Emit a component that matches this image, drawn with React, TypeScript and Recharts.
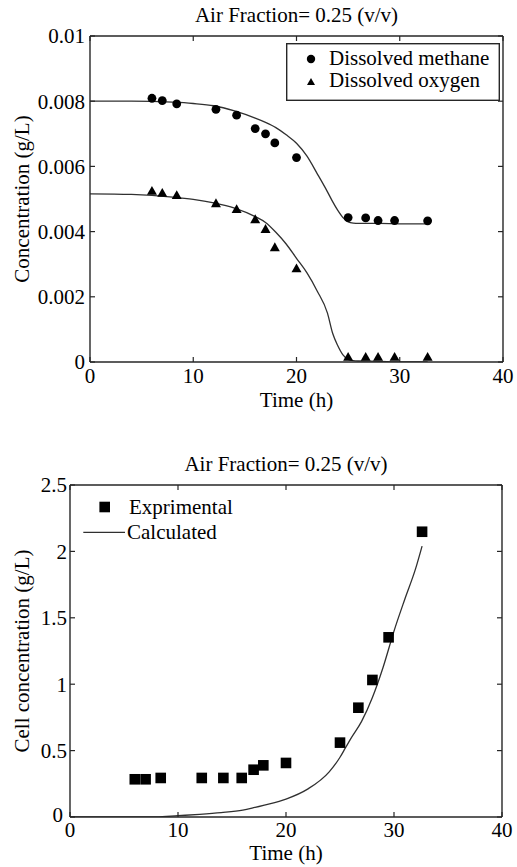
import React from 'react';
import { ComposedChart, Line, Scatter, XAxis, YAxis, Legend } from 'recharts';

const FONT = "'Liberation Serif', 'DejaVu Serif', serif";
const AXIS = '#262626';
const CURVE = '#303030';

const titleText = 'Air Fraction= 0.25 (v/v)';
const timeLabel = 'Time (h)';
const concLabel = 'Concentration (g/L)';
const cellLabel = 'Cell concentration (g/L)';
const methaneName = 'Dissolved methane';
const oxygenName = 'Dissolved oxygen';
const expName = 'Exprimental';
const calcName = 'Calculated';

const timeTicks = [0, 10, 20, 30, 40];
const concTicks = [0, 0.002, 0.004, 0.006, 0.008, 0.01];
const cellTicks = [0, 0.5, 1, 1.5, 2, 2.5];

// Measured (top chart)
const sampleTime = [6.0, 7.0, 8.4, 12.2, 14.2, 16.0, 17.0, 17.9, 20.0, 25.0, 26.7, 27.9, 29.5, 32.7];
const methaneMeasured = [0.00809, 0.00802, 0.00792, 0.00775, 0.00757, 0.00716, 0.0070, 0.00672, 0.00627, 0.00443, 0.00442, 0.00434, 0.00434, 0.00433];
const oxygenMeasured = [0.00524, 0.00518, 0.00511, 0.00486, 0.00468, 0.00437, 0.00407, 0.00351, 0.00286, 0.00015, 0.00015, 0.00015, 0.00015, 0.00015];

// Model (top chart)
const modelTime = [0, 4, 8, 10, 12, 14, 16, 17, 18, 19, 20, 21, 22, 23, 23.5, 24, 24.5, 25, 25.5, 26, 28, 30, 32.7];
const methaneModel = [0.0080, 0.0080, 0.00797, 0.00793, 0.00786, 0.0077, 0.00748, 0.00735, 0.00719, 0.00697, 0.00671, 0.00632, 0.00578, 0.00522, 0.00492, 0.00465, 0.00443, 0.0043, 0.00426, 0.00425, 0.00425, 0.00424, 0.00424];
const oxygenModel = [0.00516, 0.00514, 0.00506, 0.00499, 0.00488, 0.00472, 0.00446, 0.00428, 0.00398, 0.00362, 0.00318, 0.00274, 0.00218, 0.0015, 0.00088, 0.0005, 0.00022, 0.00008, 0.00004, 0.00003, 0.00002, 0.0, 0.0];

// Cell concentration (bottom chart)
const cellTime = [6.0, 7.0, 8.4, 12.2, 14.2, 15.9, 17.0, 17.9, 20.0, 25.0, 26.7, 28.0, 29.5, 32.6];
const cellMeasured = [0.284, 0.284, 0.294, 0.294, 0.294, 0.294, 0.356, 0.389, 0.407, 0.56, 0.823, 1.032, 1.353, 2.148];
const cellModelTime = [0, 8, 10, 12, 14, 16, 17, 18, 20, 22, 24, 25, 25.5, 26, 27, 28, 29, 30, 31, 32, 32.6];
const cellModel = [0, 0, 0.01, 0.02, 0.033, 0.052, 0.07, 0.09, 0.135, 0.21, 0.34, 0.45, 0.52, 0.59, 0.72, 0.9, 1.13, 1.4, 1.64, 1.87, 2.04];

const zip = (xs: number[], ys: number[]) => xs.map((t, i) => ({ t, v: ys[i] }));

const methanePoints = zip(sampleTime, methaneMeasured);
const oxygenPoints = zip(sampleTime, oxygenMeasured);
const methaneCurve = zip(modelTime, methaneModel);
const oxygenCurve = zip(modelTime, oxygenModel);
const cellPoints = zip(cellTime, cellMeasured);
const cellCurve = zip(cellModelTime, cellModel);

const tickStyle = { fontSize: 21, fill: '#000', fontFamily: FONT };
const axisLineStyle = { stroke: AXIS, strokeWidth: 1.4 };
const tickLineStyle = { stroke: AXIS, strokeWidth: 1.2 };
const blank = () => '';

const CellYTick = (props: any) => {
  const { x, y, payload } = props;
  const isZero = payload && payload.value === 0;
  return (
    <text x={x - (isZero ? 4 : 0)} y={y - (isZero ? 2 : 0)} dy="0.355em" textAnchor="end" fontSize={21} fontFamily={FONT} fill="#000">
      {String(payload.value)}
    </text>
  );
};

const DotShape = (p: any) => <circle cx={p.cx} cy={p.cy} r={4.4} fill="#000" />;
const TriShape = (p: any) => (
  <path d={`M${p.cx},${p.cy - 5.2} L${p.cx + 5},${p.cy + 3.6} L${p.cx - 5},${p.cy + 3.6} Z`} fill="#000" />
);
const SquareShape = (p: any) => (
  <rect x={p.cx - 5.3} y={p.cy - 5.3} width={10.6} height={10.6} fill="#000" />
);

const TopLegend = () => (
  <svg width={214} height={58} style={{ display: 'block', fontFamily: FONT }}>
    <rect x={0.7} y={0.7} width={212.6} height={56.6} fill="#fff" stroke={AXIS} strokeWidth={1.4} />
    <circle cx={25} cy={16} r={4.2} fill="#000" />
    <text x={43} y={22} fontSize={21} fontFamily={FONT} fill="#000">{methaneName}</text>
    <path d="M25,35 L29,42 L21,42 Z" fill="#000" />
    <text x={43} y={43.7} fontSize={21} fontFamily={FONT} fill="#000">{oxygenName}</text>
  </svg>
);

const BottomLegend = () => (
  <svg width={190} height={52} style={{ display: 'block', fontFamily: FONT }}>
    <rect x={19.4} y={6.7} width={10.6} height={10.6} fill="#000" />
    <text x={49} y={19} fontSize={21} fontFamily={FONT} fill="#000">{expName}</text>
    <line x1={3.3} y1={37.3} x2={45} y2={37.3} stroke={CURVE} strokeWidth={1.3} />
    <text x={47} y={44} fontSize={21} fontFamily={FONT} fill="#000">{calcName}</text>
  </svg>
);

export default function App() {
  return (
    <div style={{ position: 'absolute', left: 0, top: 0, width: 517, height: 867, background: '#fff', fontFamily: FONT }}>
      <div style={{ position: 'absolute', left: 0, top: 0, fontFamily: FONT }}>
        <ComposedChart width={517} height={420} margin={{ top: 35, right: 13, bottom: 28, left: 0 }} style={{ fontFamily: FONT }}>
          <XAxis
            xAxisId="b"
            dataKey="t"
            type="number"
            domain={[0, 40]}
            ticks={timeTicks}
            allowDataOverflow
            height={30}
            tickSize={-5}
            tickMargin={11}
            tick={tickStyle}
            axisLine={axisLineStyle}
            tickLine={tickLineStyle}
            label={{ value: timeLabel, position: 'bottom', offset: 0.5, fontSize: 21, fill: '#000', fontFamily: FONT }}
          />
          <XAxis
            xAxisId="t"
            dataKey="t"
            orientation="top"
            type="number"
            domain={[0, 40]}
            ticks={timeTicks}
            allowDataOverflow
            height={1}
            tickSize={-5}
            tickFormatter={blank}
            axisLine={axisLineStyle}
            tickLine={tickLineStyle}
            label={{ value: titleText, position: 'top', offset: 13, fontSize: 21, fill: '#000', fontFamily: FONT }}
          />
          <YAxis
            yAxisId="l"
            type="number"
            domain={[0, 0.01]}
            ticks={concTicks}
            allowDataOverflow
            width={90}
            tickSize={-5}
            tickMargin={10}
            tick={tickStyle}
            axisLine={axisLineStyle}
            tickLine={tickLineStyle}
            label={{ value: concLabel, angle: -90, position: 'insideLeft', offset: 22, fontSize: 21, fill: '#000', fontFamily: FONT, style: { textAnchor: 'middle' } }}
          />
          <YAxis
            yAxisId="r"
            orientation="right"
            type="number"
            domain={[0, 0.01]}
            ticks={concTicks}
            allowDataOverflow
            width={1}
            tickSize={-5}
            tickFormatter={blank}
            axisLine={axisLineStyle}
            tickLine={tickLineStyle}
          />
          <Line xAxisId="t" yAxisId="r" data={methaneCurve} dataKey="v" stroke="none" dot={false} activeDot={false} legendType="none" isAnimationActive={false} />
          <Line xAxisId="b" yAxisId="l" data={methaneCurve} dataKey="v" type="monotone" stroke={CURVE} strokeWidth={1.3} dot={false} isAnimationActive={false} name={methaneName} legendType="none" />
          <Line xAxisId="b" yAxisId="l" data={oxygenCurve} dataKey="v" type="monotone" stroke={CURVE} strokeWidth={1.3} dot={false} isAnimationActive={false} name={oxygenName} legendType="none" />
          <Scatter xAxisId="b" yAxisId="l" data={methanePoints} dataKey="v" shape={DotShape} isAnimationActive={false} name={methaneName} />
          <Scatter xAxisId="b" yAxisId="l" data={oxygenPoints} dataKey="v" shape={TriShape} isAnimationActive={false} name={oxygenName} />
          <Legend
            layout="vertical"
            align="center"
            verticalAlign="middle"
            wrapperStyle={{ top: 42.5, left: 286, width: 214, height: 58 }}
            content={() => <TopLegend />}
          />
        </ComposedChart>
      </div>
      <div style={{ position: 'absolute', left: 0, top: 420, fontFamily: FONT }}>
        <ComposedChart width={517} height={447} margin={{ top: 64, right: 14, bottom: 20, left: 0 }} style={{ fontFamily: FONT }}>
          <XAxis
            xAxisId="b"
            dataKey="t"
            type="number"
            domain={[0, 40]}
            ticks={timeTicks}
            allowDataOverflow
            height={30}
            tickSize={-5}
            tickMargin={10}
            tick={tickStyle}
            axisLine={axisLineStyle}
            tickLine={tickLineStyle}
            label={{ value: timeLabel, position: 'bottom', offset: -1.5, fontSize: 21, fill: '#000', fontFamily: FONT }}
          />
          <XAxis
            xAxisId="t"
            dataKey="t"
            orientation="top"
            type="number"
            domain={[0, 40]}
            ticks={timeTicks}
            allowDataOverflow
            height={1}
            tickSize={-5}
            tickFormatter={blank}
            axisLine={axisLineStyle}
            tickLine={tickLineStyle}
            label={{ value: titleText, position: 'top', offset: 13, fontSize: 21, fill: '#000', fontFamily: FONT }}
          />
          <YAxis
            yAxisId="l"
            type="number"
            domain={[0, 2.5]}
            ticks={cellTicks}
            allowDataOverflow
            width={70}
            tickSize={-5}
            tickMargin={8}
            tick={CellYTick}
            axisLine={axisLineStyle}
            tickLine={tickLineStyle}
            label={{ value: cellLabel, angle: -90, position: 'insideLeft', offset: 22, fontSize: 21, fill: '#000', fontFamily: FONT, style: { textAnchor: 'middle' } }}
          />
          <YAxis
            yAxisId="r"
            orientation="right"
            type="number"
            domain={[0, 2.5]}
            ticks={cellTicks}
            allowDataOverflow
            width={1}
            tickSize={-5}
            tickFormatter={blank}
            axisLine={axisLineStyle}
            tickLine={tickLineStyle}
          />
          <Line xAxisId="t" yAxisId="r" data={cellCurve} dataKey="v" stroke="none" dot={false} activeDot={false} legendType="none" isAnimationActive={false} />
          <Line xAxisId="b" yAxisId="l" data={cellCurve} dataKey="v" type="monotone" stroke={CURVE} strokeWidth={1.3} dot={false} isAnimationActive={false} name={calcName} />
          <Scatter xAxisId="b" yAxisId="l" data={cellPoints} dataKey="v" shape={SquareShape} isAnimationActive={false} name={expName} />
          <Legend
            layout="vertical"
            align="center"
            verticalAlign="middle"
            wrapperStyle={{ top: 75, left: 80, width: 190, height: 52 }}
            content={() => <BottomLegend />}
          />
        </ComposedChart>
      </div>
    </div>
  );
}
